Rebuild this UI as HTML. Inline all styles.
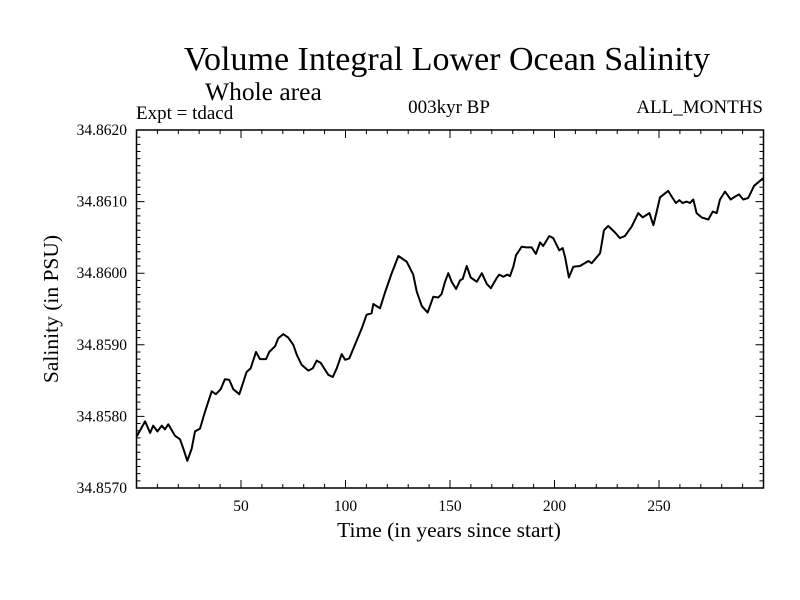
<!DOCTYPE html>
<html><head><meta charset="utf-8"><style>
html,body{margin:0;padding:0;background:#fff;}
svg{display:block;font-family:"Liberation Serif",serif;}
</style></head><body>
<svg id="chart" width="800" height="600" viewBox="0 0 800 600" xmlns="http://www.w3.org/2000/svg">
<rect width="800" height="600" fill="#fff"/>
<text x="447" y="70" font-size="34" text-anchor="middle">Volume Integral Lower Ocean Salinity</text>
<text x="205" y="100" font-size="25.5">Whole area</text>
<text x="136" y="119" font-size="19">Expt = tdacd</text>
<text x="449" y="113" font-size="19" text-anchor="middle">003kyr BP</text>
<text x="763" y="113" font-size="19" text-anchor="end">ALL_MONTHS</text>
<text x="449" y="537" font-size="21.5" text-anchor="middle">Time (in years since start)</text>
<text transform="translate(58,309) rotate(-90)" font-size="21.5" text-anchor="middle">Salinity (in PSU)</text>
<g id="axes"></g>
<path id="series" fill="none" stroke="#000" stroke-width="2" stroke-linejoin="round"/>
</svg>
<script>
const years=[0.1,4.1,6.5,8.0,10.0,12.1,13.6,15.2,18.4,20.8,22.4,24.3,26.4,28.0,30.4,32.8,36.0,38.0,40.3,42.3,44.4,46.3,49.2,52.7,54.6,57.2,59.1,62.0,63.5,66.3,67.8,70.2,72.6,75.0,76.7,79.0,82.2,84.3,86.2,88.1,89.4,91.8,93.9,95.8,98.2,99.8,101.8,107.8,110.1,112.5,113.3,116.5,118.9,122.1,125.3,129.3,132.4,134.1,136.5,139.3,142.0,144.4,146.0,147.6,149.2,150.8,152.9,154.8,156.1,158.0,159.9,162.8,165.2,167.6,169.5,172.3,173.6,175.5,177.4,178.7,180.3,181.6,184.3,186.7,189.1,191.1,193.1,194.6,197.5,199.4,202.3,203.9,205.0,206.9,209.0,212.2,216.2,217.8,221.8,223.7,225.7,228.9,231.3,233.7,236.9,240.1,242.2,245.4,247.3,248.9,250.5,254.4,256.1,258.1,259.7,261.3,263.3,264.8,266.4,268.0,270.4,273.6,275.7,277.6,279.2,281.6,284.3,286.4,288.3,290.3,292.7,295.5,299.2,300];
const salinity=[34.85772,34.85793,34.85777,34.85787,34.85779,34.85787,34.85782,34.85789,34.85773,34.85768,34.85755,34.85738,34.85755,34.85779,34.85783,34.85807,34.85835,34.85831,34.85838,34.85852,34.85851,34.85838,34.85831,34.85862,34.85867,34.85890,34.85880,34.85880,34.85890,34.85898,34.85909,34.85915,34.85910,34.85900,34.85886,34.85872,34.85864,34.85867,34.85878,34.85875,34.85869,34.85858,34.85855,34.85867,34.85887,34.85879,34.85881,34.85923,34.85942,34.85944,34.85957,34.85951,34.85973,34.86000,34.86024,34.86016,34.85998,34.85974,34.85954,34.85945,34.85967,34.85966,34.85971,34.85988,34.86000,34.85988,34.85978,34.85990,34.85992,34.86010,34.85994,34.85988,34.86000,34.85985,34.85979,34.85993,34.85998,34.85995,34.85998,34.85996,34.86009,34.86025,34.86037,34.86036,34.86036,34.86027,34.86043,34.86038,34.86052,34.86049,34.86032,34.86035,34.86023,34.85994,34.86009,34.86010,34.86017,34.86014,34.86028,34.86060,34.86066,34.86057,34.86049,34.86052,34.86065,34.86084,34.86078,34.86084,34.86067,34.86086,34.86106,34.86115,34.86107,34.86098,34.86102,34.86098,34.86100,34.86098,34.86103,34.86084,34.86078,34.86075,34.86086,34.86084,34.86103,34.86114,34.86103,34.86107,34.86110,34.86103,34.86105,34.86122,34.86131,34.86133];
const xTicks=[50,100,150,200,250];
const yTicks=[34.857,34.858,34.859,34.860,34.861,34.862];
const yTickLabels=["34.8570","34.8580","34.8590","34.8600","34.8610","34.8620"];
const X0=136.5,X1=763.5,Y0=488,Y1=130,XMIN=0,XMAX=300,YMIN=34.857,YMAX=34.862;
function xs(v){return X0+(v-XMIN)/(XMAX-XMIN)*(X1-X0);}
function ys(v){return Y0-(v-YMIN)/(YMAX-YMIN)*(Y0-Y1);}
const NS="http://www.w3.org/2000/svg";
const ax=document.getElementById('axes');
function add(tag,attrs,parent){const e=document.createElementNS(NS,tag);for(const k in attrs)e.setAttribute(k,attrs[k]);(parent||ax).appendChild(e);return e;}
const frame=add('rect',{x:X0,y:Y1,width:X1-X0,height:Y0-Y1,fill:'none',stroke:'#000','stroke-width':1.5});


let d='';
for(let v=10;v<XMAX;v+=10){const x=xs(v);const L=(v%50===0)?8:4;d+=`M${x},${Y0}v${-L}M${x},${Y1}v${L}`;}
for(let i=1;i<50;i++){const v=YMIN+i*0.0001;const y=ys(v);const L=(i%10===0)?8:4;d+=`M${X0},${y}h${L}M${X1},${y}h${-L}`;}
const tk=add('path',{d:d,stroke:'#000','stroke-width':1,fill:'none'});


xTicks.forEach(v=>{const t=add('text',{x:xs(v),y:511,'font-size':15.5,'text-anchor':'middle'});t.textContent=String(v);

});
yTicks.forEach((v,i)=>{const t=add('text',{x:127,y:ys(v)+5,'font-size':15.5,'text-anchor':'end'});t.textContent=yTickLabels[i];

});
document.getElementById('series').setAttribute('d',years.map((y,i)=>(i?'L':'M')+xs(y).toFixed(1)+','+ys(salinity[i]).toFixed(1)).join(''));
</script>
</body></html>
